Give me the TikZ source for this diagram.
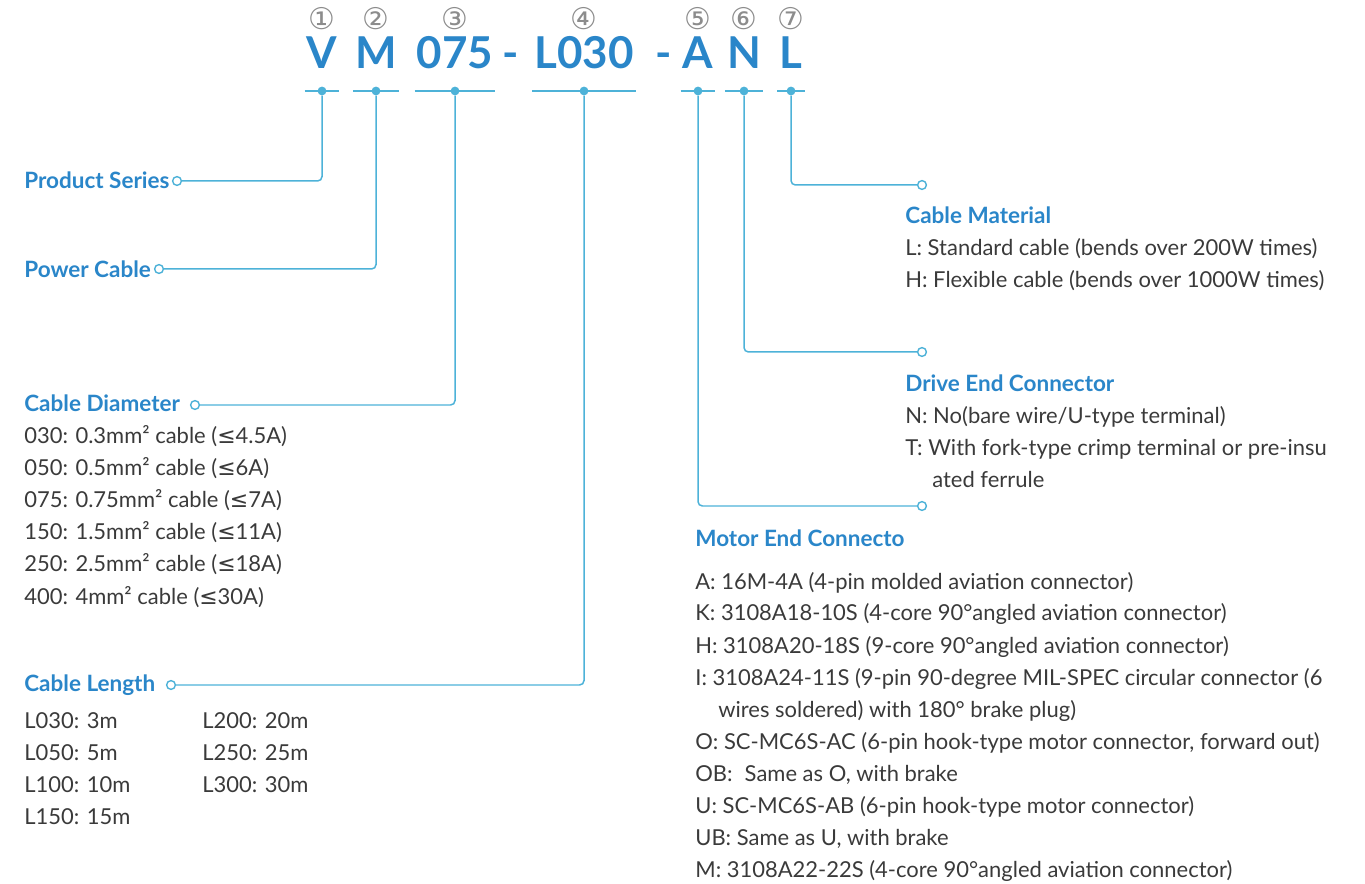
\documentclass[tikz,border=0pt]{standalone}
\usepackage{fontspec}
\setmainfont{Lato}
\newfontfamily\symfont{DejaVu Sans}
\usetikzlibrary{positioning}
\definecolor{codeblue}{HTML}{2A86C9}
\definecolor{linkblue}{HTML}{4DB2D8}
\definecolor{bodygrey}{HTML}{3A3A3A}
\definecolor{numgrey}{HTML}{8C8C8C}
\newcommand{\lesign}{{\symfont ≤}}
\tikzset{
  code/.style={font=\fontsize{25}{25}\selectfont\bfseries, text=codeblue, inner sep=0pt, anchor=base},
  num/.style={font=\symfont\fontsize{17}{17}\selectfont, text=numgrey, inner sep=0pt},
  head/.style={font=\fontsize{12.8}{15}\selectfont\bfseries, text=codeblue, inner sep=0pt, anchor=base west},
  item/.style={font=\fontsize{12.5}{15}\selectfont, text=bodygrey, inner sep=0pt, anchor=base west},
  dot/.style={circle, fill=linkblue, inner sep=0pt, minimum size=5pt},
  ring/.style={circle, draw=linkblue, fill=white, line width=0.8pt, inner sep=0pt, minimum size=5pt},
  link/.style={draw=linkblue, line width=0.85pt, rounded corners=2.5pt},
}

\begin{document}
\begin{tikzpicture}[x=0.02cm, y=-0.02cm]
\useasboundingbox (0,0) rectangle (1365,884);

\node[code] (cV) at (322,69) {V};
\node[code] (cM) at (376,69) {M};
\node[code] (c075) at (455,69) {075};
\node[code] (dash1) at (511,69) {-};
\node[code] (cL030) at (584,69) {L030};
\node[code] (dash2) at (664,69) {-};
\node[code] (cA) at (698,69) {A};
\node[code] (cN) at (744,69) {N};
\node[code] (cL) at (791,69) {L};

\foreach \c/\n in {cV/①, cM/②, c075/③, cL030/④, cA/⑤, cN/⑥, cL/⑦}
  \node[num] (n\c) at (\c |- 0,19) {\n};

\foreach \c in {cV, cM, c075, cL030, cA, cN, cL} {
  \node[dot] (d\c) at (\c |- 0,91) {};
  \draw[link] ([xshift=-1pt]\c.west |- d\c) -- ([xshift=1pt]\c.east |- d\c);
}

\node[head] (hPS) at (24,189) {Product Series};
\node[head] (hPC) at (24,278) {Power Cable};
\node[head] (hCD) at (24,412) {Cable Diameter};
\node[head] (hCL) at (24,691) {Cable Length};
\node[head] (hCM) at (905,224) {Cable Material};
\node[head] (hDE) at (905,392) {Drive End Connector};
\node[head] (hME) at (695,547) {Motor End Connecto};

\node[ring] (rPS) at (177,181) {};
\node[ring] (rPC) at (159,269) {};
\node[ring] (rCD) at (195,405) {};
\node[ring] (rCL) at (171,685) {};
\node[ring] (rCM) at (922,185) {};
\node[ring] (rDE) at (922,352) {};
\node[ring] (rME) at (922,506) {};

\draw[link] (dcV) |- (rPS);
\draw[link] (dcM) |- (rPC);
\draw[link] (dc075) |- (rCD);
\draw[link] (dcL030) |- (rCL);
\draw[link] (dcA) |- (rME);
\draw[link] (dcN) |- (rDE);
\draw[link] (dcL) |- (rCM);

\foreach \t [count=\i] in {030: 0.3mm² cable (\lesign4.5A), 050: 0.5mm² cable (\lesign6A),
    075: 0.75mm² cable (\lesign7A), 150: 1.5mm² cable (\lesign11A),
    250: 2.5mm² cable (\lesign18A), 400: 4mm² cable (\lesign30A)}
  \node[item] (dia\i) at (24,{412+32*\i}) {\t};

\foreach \t [count=\i] in {L030: 3m, L050: 5m, L100: 10m, L150: 15m}
  \node[item] (lenA\i) at (24,{696+32*\i}) {\t};
\foreach \t [count=\i] in {L200: 20m, L250: 25m, L300: 30m}
  \node[item] (lenB\i) at (202,{696+32*\i}) {\t};

\node[item] (mat1) at (905,256) {L: Standard cable (bends over 200W times)};
\node[item] (mat2) at (905,288) {H: Flexible cable (bends over 1000W times)};

\node[item] (drv1) at (905,424) {N: No(bare wire/U-type terminal)};
\node[item] (drv2) at (905,456) {T: With fork-type crimp terminal or pre-insu};
\node[item] (drv3) at (932,488) {ated ferrule};

\foreach \x/\t [count=\i] in {
    695/{A: 16M-4A (4-pin molded aviation connector)},
    695/{K: 3108A18-10S (4-core 90°angled aviation connector)},
    695/{H: 3108A20-18S (9-core 90°angled aviation connector)},
    695/{I: 3108A24-11S (9-pin 90-degree MIL-SPEC circular connector (6},
    718/{wires soldered) with 180° brake plug)},
    695/{O: SC-MC6S-AC (6-pin hook-type motor connector, forward out)},
    695/{OB:\hspace{0.55em}Same as O, with brake},
    695/{U: SC-MC6S-AB (6-pin hook-type motor connector)},
    695/{UB: Same as U, with brake},
    695/{M: 3108A22-22S (4-core 90°angled aviation connector)}}
  \node[item] (mot\i) at (\x,{557+32*\i}) {\t};
\end{tikzpicture}
\end{document}
